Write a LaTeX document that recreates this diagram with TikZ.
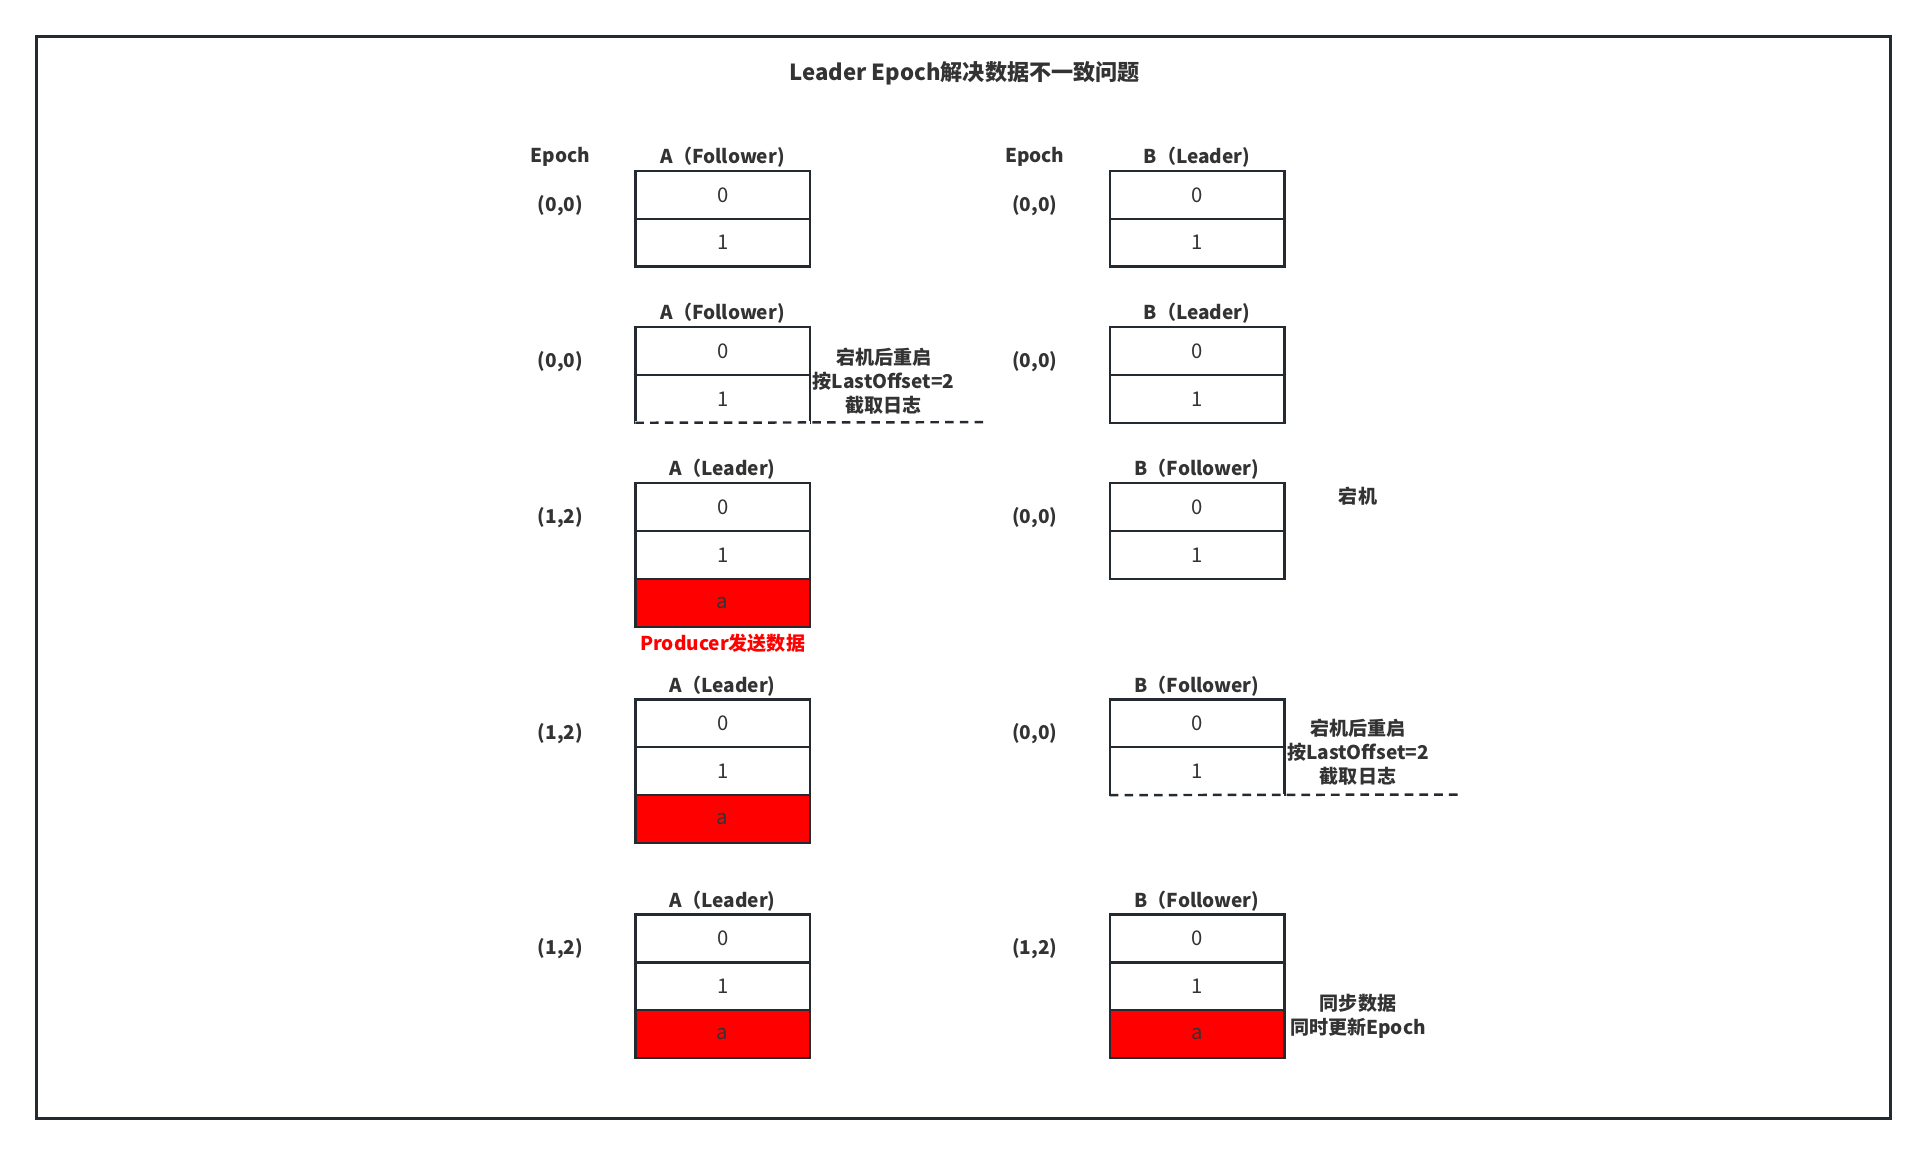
\documentclass[tikz,border=0pt]{standalone}
\usepackage{fontspec}
\setmainfont{Noto Sans CJK SC}
\usetikzlibrary{positioning}
\definecolor{ink}{RGB}{35,42,50}
\definecolor{txt}{RGB}{51,51,51}

\begin{document}
\begin{tikzpicture}[x=1pt, y=-1pt,
    cell/.style={draw=ink, line width=2pt, outer sep=0pt, inner sep=0pt,
        minimum width=142pt, minimum height=39pt, text=txt,
        font=\fontsize{16.5}{18}\selectfont},
    hot/.style={cell, fill=red},
    lbl/.style={inner sep=0pt, text=txt, font=\bfseries\fontsize{15.5}{19.5}\selectfont},
    note/.style={lbl, align=center},
    cutline/.style={ink, line width=2pt, dash pattern=on 7pt off 5pt}]
    \useasboundingbox (0,0) rectangle (1568,942);

    % Frame and title
    \draw[ink, line width=2.5pt] (30,30) rectangle (1538,910);
    \node[lbl, font=\bfseries\fontsize{18}{20}\selectfont] (title) at (785,60) {Leader Epoch解决数据不一致问题};

    % Column heads
    \node[lbl] (epA) at (456,128) {Epoch};
    \node[lbl] (epB) at (842,128) {Epoch};

    % Step 1
    \node[cell] (A1r0) at (588,158.5) {0};
    \node[cell] (A1r1) at (588,197.5) {1};
    \node[lbl, above=2.5pt of A1r0] (A1h) {A（Follower)};
    \node[lbl] (A1e) at (456,167) {(0,0)};
    \node[cell] (B1r0) at (974,158.5) {0};
    \node[cell] (B1r1) at (974,197.5) {1};
    \node[lbl, above=2.5pt of B1r0] (B1h) {B（Leader)};
    \node[lbl] (B1e) at (842,167) {(0,0)};

    % Step 2
    \node[cell] (A2r0) at (588,285.5) {0};
    \node[cell] (A2r1) at (588,324.5) {1};
    \node[lbl, above=2.5pt of A2r0] (A2h) {A（Follower)};
    \node[lbl] (A2e) at (456,294) {(0,0)};
    \node[note] (A2n) at (719,310) {宕机后重启\\按LastOffset=2\\截取日志};
    \coordinate (A2cut) at (803,343.5);
    \draw[white, line width=2.2pt] (A2r1.south west) -- (A2r1.south east);
    \draw[cutline] (A2r1.south west) -- (A2cut);
    \node[cell] (B2r0) at (974,285.5) {0};
    \node[cell] (B2r1) at (974,324.5) {1};
    \node[lbl, above=2.5pt of B2r0] (B2h) {B（Leader)};
    \node[lbl] (B2e) at (842,294) {(0,0)};

    % Step 3
    \node[cell] (A3r0) at (588,412.5) {0};
    \node[cell] (A3r1) at (588,451.5) {1};
    \node[hot] (A3ra) at (588,490.5) {a};
    \node[lbl, above=2.5pt of A3r0] (A3h) {A（Leader)};
    \node[lbl] (A3e) at (456,421) {(1,2)};
    \node[lbl, text=red, below=6pt of A3ra] (A3p) {Producer发送数据};
    \node[cell] (B3r0) at (974,412.5) {0};
    \node[cell] (B3r1) at (974,451.5) {1};
    \node[lbl, above=2.5pt of B3r0] (B3h) {B（Follower)};
    \node[lbl] (B3e) at (842,421) {(0,0)};
    \node[lbl] (B3n) at (1105,404) {宕机};

    % Step 4
    \node[cell] (A4r0) at (588,588.5) {0};
    \node[cell] (A4r1) at (588,627.5) {1};
    \node[hot] (A4ra) at (588,666.5) {a};
    \node[lbl, above=2.5pt of A4r0] (A4h) {A（Leader)};
    \node[lbl] (A4e) at (456,597) {(1,2)};
    \node[cell] (B4r0) at (974,588.5) {0};
    \node[cell] (B4r1) at (974,627.5) {1};
    \node[lbl, above=2.5pt of B4r0] (B4h) {B（Follower)};
    \node[lbl] (B4e) at (842,597) {(0,0)};
    \node[note] (B4n) at (1105,612) {宕机后重启\\按LastOffset=2\\截取日志};
    \coordinate (B4cut) at (1188,646.5);
    \draw[white, line width=2.2pt] (B4r1.south west) -- (B4r1.south east);
    \draw[cutline] (B4r1.south west) -- (B4cut);

    % Step 5
    \node[cell] (A5r0) at (588,763.5) {0};
    \node[cell] (A5r1) at (588,802.5) {1};
    \node[hot] (A5ra) at (588,841.5) {a};
    \node[lbl, above=2.5pt of A5r0] (A5h) {A（Leader)};
    \node[lbl] (A5e) at (456,772) {(1,2)};
    \node[cell] (B5r0) at (974,763.5) {0};
    \node[cell] (B5r1) at (974,802.5) {1};
    \node[hot] (B5ra) at (974,841.5) {a};
    \node[lbl, above=2.5pt of B5r0] (B5h) {B（Follower)};
    \node[lbl] (B5e) at (842,772) {(1,2)};
    \node[note] (B5n) at (1105,827) {同步数据\\同时更新Epoch};
\end{tikzpicture}
\end{document}
